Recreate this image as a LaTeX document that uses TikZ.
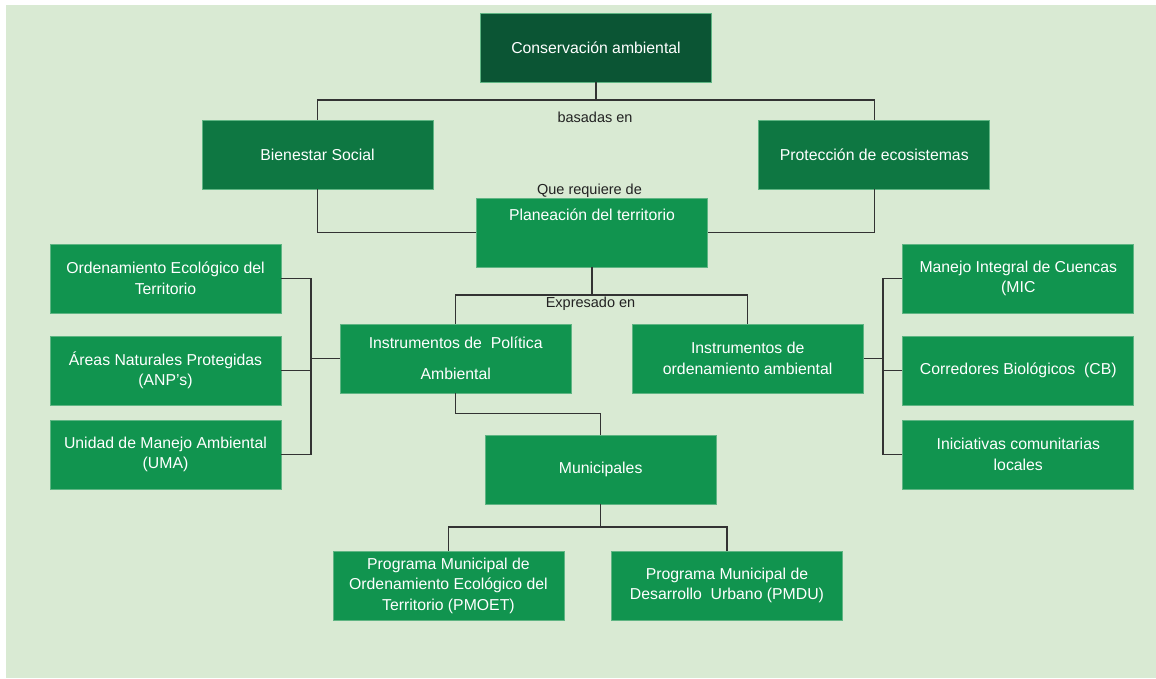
\documentclass[tikz,border=0pt]{standalone}
\usepackage{fontspec}
\setmainfont{Liberation Sans}
\definecolor{bgfill}{HTML}{D9EAD3}
\definecolor{topgreen}{HTML}{0B5534}
\definecolor{midgreen}{HTML}{0E7742}
\definecolor{boxgreen}{HTML}{11944F}
\definecolor{boxedge}{HTML}{5FB583}
\definecolor{linegray}{HTML}{333333}
\definecolor{labelgray}{HTML}{222222}
\begin{document}
\begin{tikzpicture}[x=1pt,y=-1pt,
  box/.style={rectangle, fill=boxgreen, draw=boxedge, line width=0.7pt,
    text=white, align=center, inner sep=0pt,
    minimum width=231pt, minimum height=69pt,
    font=\fontsize{15.8}{20.5}\selectfont},
  conn/.style={draw=linegray, line width=1.2pt},
  lbl/.style={text=labelgray, inner sep=0pt, font=\fontsize{14.5}{17}\selectfont}]

% canvas
\fill[white] (0,0) rectangle (1156,678);
\fill[bgfill] (6,5) rectangle (1156,678);
\useasboundingbox (0,0) rectangle (1156,678);

% top levels
\node[box, fill=topgreen] (cons) at (596,47.5) {Conservación ambiental};
\node[box, fill=midgreen] (bien) at (317.5,154.5) {Bienestar Social};
\node[box, fill=midgreen] (prot) at (874.3,154.5) {Protección de ecosistemas};
\node[box, label={[text=white, anchor=north, yshift=-11pt, inner sep=0pt,
    font=\fontsize{15.8}{20.5}\selectfont]north:Planeación del territorio}]
    (plan) at (592,232.5) {};

% instruments
\node[box] (pol) at (455.7,358.5) {Instrumentos de~ Política\\[10.5pt]Ambiental};
\node[box] (ordi) at (747.7,358.5) {Instrumentos de\\ordenamiento ambiental};

% left column
\node[box] (oet) at (165.5,278.5) {Ordenamiento Ecológico del\\Territorio};
\node[box] (anp) at (165.5,370.5) {Áreas Naturales Protegidas\\(ANP’s)};
\node[box] (uma) at (165.5,454.5) {Unidad de Manejo Ambiental\\(UMA)};

% right column
\node[box] (mic) at (1018.3,278.5) {Manejo Integral de Cuencas\\(MIC};
\node[box] (cb) at (1018.3,370.5) {Corredores Biológicos~ (CB)};
\node[box] (ini) at (1018.3,454.5) {Iniciativas comunitarias\\locales};

% municipal level
\node[box] (mun) at (600.7,469.5) {Municipales};
\node[box] (pmoet) at (448.4,585.5) {Programa Municipal de\\Ordenamiento Ecológico del\\Territorio (PMOET)};
\node[box] (pmdu) at (727,585.5) {Programa Municipal de\\Desarrollo~ Urbano (PMDU)};

% connector labels
\node[lbl] (lb1) at (595,117) {basadas en};
\node[lbl] (lb2) at (589.5,190.5) {Que requiere de};
\node[lbl] (lb3) at (590.5,304) {Expresado en};

% junction points
\coordinate (j1) at (596,100);
\coordinate (j2) at (592,295);
\coordinate (lbk) at (311,358.5);
\coordinate (rbk) at (883,358.5);
\coordinate (j3) at (600.7,413.3);
\coordinate (j4) at (600.7,527);

% connectors
\draw[conn] (cons.south) -- (j1);
\draw[conn] (bien.north) |- (j1) -| (prot.north);
\draw[conn] (bien.south) |- (plan.west);
\draw[conn] (prot.south) |- (plan.east);
\draw[conn] (plan.south) -- (j2);
\draw[conn] (pol.north) |- (j2) -| (ordi.north);

\draw[conn] (pol.west) -- (lbk);
\draw[conn] (oet.east) -| (lbk);
\draw[conn] (uma.east) -| (lbk);
\draw[conn] (anp.east) -- (anp.east -| lbk);

\draw[conn] (ordi.east) -- (rbk);
\draw[conn] (mic.west) -| (rbk);
\draw[conn] (ini.west) -| (rbk);
\draw[conn] (cb.west) -- (cb.west -| rbk);

\draw[conn] (pol.south) |- (j3) -- (mun.north);
\draw[conn] (mun.south) -- (j4);
\draw[conn] (pmoet.north) |- (j4) -| (pmdu.north);
\end{tikzpicture}
\end{document}
